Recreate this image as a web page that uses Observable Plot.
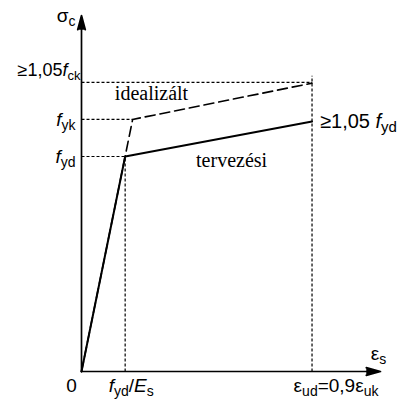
<!DOCTYPE html>
<html>
<head>
<meta charset="utf-8">
<script src="https://cdn.jsdelivr.net/npm/d3@7"></script>
<script src="https://cdn.jsdelivr.net/npm/@observablehq/plot@0.6"></script>
<style>
  html, body { margin: 0; padding: 0; background: #fff; }
</style>
</head>
<body>
<div id="chart"></div>
<script>
// Strain axis (ε_s) key values, arbitrary units
const strainTicks = [0, 14.6, 77.1];
const strainLabels = ["0", "$f$_{yd}/$E$_{s}", "ε_{ud}=0,9ε_{uk}"];
const strainYk = 17.1;       // strain where idealised curve reaches f_yk
// Stress axis (σ) key values
const stressTicks = [60.4, 70.8, 81.2];
const stressLabels = ["$f$_{yd}", "$f$_{yk}", "≥1,05$f$_{ck}"];
const guideTop = 83.1;       // top of the ε_ud dotted guide

// Curves
const designX = [0, 14.6, 77.1];   // tervezési (design)
const designY = [0, 60.4, 70.2];
const idealX = [0, 17.1, 77.1];    // idealizált
const idealY = [0, 70.8, 81.0];

const curveLabels = ["idealizált", "tervezési", "≥1,05 $f$_{yd}"];
const curveLabelX = [23.4, 50.2, 77.1];
const curveLabelY = [78.1, 59.3, 70.2];
const axisLabels = ["σ_{c}", "ε_{s}"];

const design = designX.map((x, i) => ({x, y: designY[i]}));
const ideal = idealX.map((x, i) => ({x, y: idealY[i]}));

const [e0, eYd, eUd] = strainTicks;
const [fyd, fyk, fTop] = stressTicks;
const guides = [
  {x1: 0, y1: fyd, x2: designX[1], y2: fyd},
  {x1: 0, y1: fyk, x2: strainYk, y2: fyk},
  {x1: 0, y1: fTop, x2: eUd, y2: fTop},
  {x1: eYd, y1: 0, x2: eYd, y2: fyd},
  {x1: eUd, y1: 0, x2: eUd, y2: guideTop}
];
const axes = [
  {x1: 0, y1: 0, x2: 100, y2: 0},
  {x1: 0, y1: 0, x2: 0, y2: 100}
];

const sans = "'Liberation Sans', Arial, sans-serif";
const serif = "'Liberation Serif', 'Times New Roman', serif";
const fs = 19;

const txt = (data, opts) => Plot.text(data, {fontSize: fs, fontFamily: sans, fill: "black", ...opts});

const chart = Plot.plot({
  width: 401,
  height: 400,
  marginLeft: 81,
  marginRight: 21,
  marginTop: 15,
  marginBottom: 29,
  x: {domain: [0, 100], axis: null},
  y: {domain: [0, 100], axis: null},
  style: {fontFamily: sans, background: "white", color: "black", overflow: "visible"},
  marks: [
    Plot.link(guides, {x1: "x1", y1: "y1", x2: "x2", y2: "y2", stroke: "black", strokeWidth: 1.2, strokeDasharray: "3,2"}),
    Plot.line(ideal, {x: "x", y: "y", stroke: "black", strokeWidth: 1.6, strokeDasharray: "10,5"}),
    Plot.line(design, {x: "x", y: "y", stroke: "black", strokeWidth: 2}),
    Plot.arrow(axes, {x1: "x1", y1: "y1", x2: "x2", y2: "y2", stroke: "black", fill: "black", strokeWidth: 1.7, headAngle: 30, headLength: 13}),
    // strain tick labels
    txt([strainLabels[0]], {x: strainTicks[0], y: 0, text: d => d, dx: -10, dy: 14}),
    txt([strainLabels[1]], {x: strainTicks[1], y: 0, text: d => d, dx: 6, dy: 14}),
    txt([strainLabels[2]], {x: strainTicks[2], y: 0, text: d => d, dx: 24, dy: 14}),
    // stress tick labels
    txt(stressLabels.slice(0, 2), {x: 0, y: (d, i) => stressTicks[i], text: d => d, textAnchor: "end", dx: -6}),
    txt([stressLabels[2]], {x: 0, y: stressTicks[2], text: d => d, textAnchor: "end", dx: -1, dy: -12, fontSize: 18}),
    // axis titles
    txt([axisLabels[0]], {x: 0, y: 100, text: d => d, textAnchor: "end", dx: -6, dy: 0}),
    txt([axisLabels[1]], {x: 100, y: 0, text: d => d, dx: -2, dy: -18}),
    // curve labels
    Plot.text(curveLabels.slice(0, 2), {x: (d, i) => curveLabelX[i], y: (d, i) => curveLabelY[i], text: d => d, fontFamily: serif, fontSize: 20, fill: "black"}),
    txt([curveLabels[2]], {x: curveLabelX[2], y: curveLabelY[2], text: d => d, textAnchor: "start", dx: 8, fontSize: 20})
  ]
});

document.getElementById("chart").appendChild(chart);

// Render simple markup: $..$ = italic, _{..} = subscript
const NS = "http://www.w3.org/2000/svg";
chart.querySelectorAll("text").forEach(el => {
  const s = el.textContent;
  if (!/[$]|_\{/.test(s)) return;
  const size = parseFloat(getComputedStyle(el).fontSize) || fs;
  const shift = Math.round(size * 0.22);
  el.textContent = "";
  const re = /\$([^$]+)\$|_\{([^}]+)\}|([^$_]+)/g;
  let m, shifted = false;
  while ((m = re.exec(s))) {
    const t = document.createElementNS(NS, "tspan");
    if (m[2] !== undefined) {
      t.setAttribute("font-size", Math.round(size * 0.74));
      if (!shifted) t.setAttribute("dy", shift);
      shifted = true;
      t.textContent = m[2];
    } else {
      if (shifted) { t.setAttribute("dy", -shift); shifted = false; }
      if (m[1] !== undefined) { t.setAttribute("font-style", "italic"); t.textContent = m[1]; }
      else t.textContent = m[3];
    }
    el.appendChild(t);
  }
});
</script>
</body>
</html>
